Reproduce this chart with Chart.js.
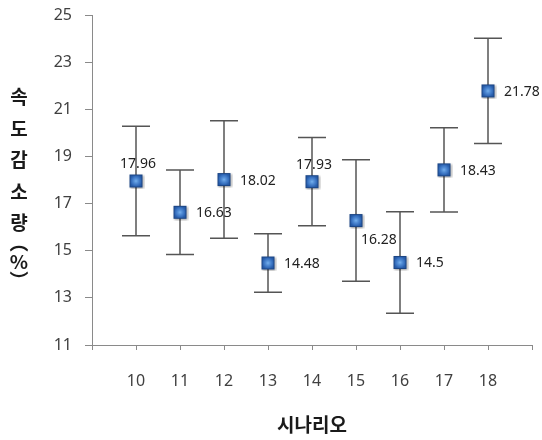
<!DOCTYPE html>
<html>
<head>
<meta charset="utf-8">
<script src="https://cdn.jsdelivr.net/npm/chart.js@4"></script>
<style>
  html, body { margin: 0; padding: 0; background: #fff; }
  #wrap { width: 542px; height: 440px; }
</style>
</head>
<body>
<div id="wrap"><canvas id="c" width="542" height="440"></canvas></div>
<script>
// scenario numbers on the x axis
const scenarios = [10, 11, 12, 13, 14, 15, 16, 17, 18];
// speed reduction (%) per scenario
const reduction = [17.96, 16.63, 18.02, 14.48, 17.93, 16.28, 14.5, 18.43, 21.78];
// +/- error amount per scenario
const errorAmount = [2.32, 1.79, 2.49, 1.24, 1.87, 2.58, 2.15, 1.79, 2.23];
// y axis tick labels
const yTicks = [11, 13, 15, 17, 19, 21, 23, 25];
// where each data label sits relative to its marker
const labelSide = ['top', 'right', 'right', 'right', 'top', 'below', 'right', 'right', 'right'];

const yTitleChars = ['속', '도', '감', '소', '량', '︵', '%', '︶'];
const KR_FONT = "'Noto Sans CJK KR', 'Noto Sans', sans-serif";

// blue square marker with a soft shadow
function makeMarker() {
    const size = 17;
    const cv = document.createElement('canvas');
    cv.width = size;
    cv.height = size;
    const g = cv.getContext('2d');
    g.save();
    g.shadowColor = 'rgba(0,0,0,0.4)';
    g.shadowBlur = 2;
    g.shadowOffsetX = 1;
    g.shadowOffsetY = 1;
    g.fillStyle = '#2459a6';
    g.fillRect(2, 2, 13, 13);
    g.restore();
    const rg = g.createRadialGradient(8.5, 8.5, 0, 8.5, 8.5, 7.5);
    rg.addColorStop(0, 'rgba(125,185,245,0.95)');
    rg.addColorStop(0.6, 'rgba(70,130,210,0.6)');
    rg.addColorStop(1, 'rgba(30,75,150,0)');
    g.fillStyle = rg;
    g.fillRect(2, 2, 13, 13);
    g.strokeStyle = '#1b4584';
    g.lineWidth = 1;
    g.strokeRect(2.5, 2.5, 12, 12);
    return cv;
}

const errorBarPlugin = {
    id: 'errorBars',
    beforeDatasetsDraw(chart) {
        const ctx = chart.ctx;
        const xs = chart.scales.x;
        const ys = chart.scales.y;
        ctx.save();
        ctx.strokeStyle = '#555';
        ctx.lineWidth = 1.5;
        scenarios.forEach((s, i) => {
            const x = xs.getPixelForValue(s);
            const top = ys.getPixelForValue(reduction[i] + errorAmount[i]);
            const bot = ys.getPixelForValue(reduction[i] - errorAmount[i]);
            ctx.beginPath();
            ctx.moveTo(x, top);
            ctx.lineTo(x, bot);
            ctx.moveTo(x - 14, top);
            ctx.lineTo(x + 14, top);
            ctx.moveTo(x - 14, bot);
            ctx.lineTo(x + 14, bot);
            ctx.stroke();
        });
        ctx.restore();
    }
};

const valueLabelPlugin = {
    id: 'valueLabels',
    afterDatasetsDraw(chart) {
        const ctx = chart.ctx;
        const meta = chart.getDatasetMeta(0);
        ctx.save();
        ctx.font = "14px 'Noto Sans', sans-serif";
        ctx.fillStyle = '#222';
        ctx.textBaseline = 'middle';
        meta.data.forEach((pt, i) => {
            const side = labelSide[i];
            const txt = String(reduction[i]);
            if (side === 'top') {
                ctx.textAlign = 'center';
                ctx.fillText(txt, pt.x + 2, pt.y - 17);
            } else if (side === 'below') {
                ctx.textAlign = 'left';
                ctx.fillText(txt, pt.x + 5, pt.y + 19);
            } else {
                ctx.textAlign = 'left';
                ctx.fillText(txt, pt.x + 16, pt.y + 1);
            }
        });
        ctx.restore();
    }
};

const yTitlePlugin = {
    id: 'yTitle',
    afterDraw(chart) {
        const ctx = chart.ctx;
        ctx.save();
        ctx.font = 'bold 19px ' + KR_FONT;
        ctx.fillStyle = '#1a1a1a';
        ctx.textAlign = 'center';
        ctx.textBaseline = 'middle';
        let y = 97;
        yTitleChars.forEach((ch, i) => {
            ctx.fillText(ch, 19, y);
            y += i < 4 ? 31.5 : (i === 4 ? 20 : 19);
        });
        ctx.restore();
    }
};

const ctx = document.getElementById('c').getContext('2d');
new Chart(ctx, {
    type: 'scatter',
    data: {
        datasets: [{
            data: scenarios.map((s, i) => ({ x: s, y: reduction[i] })),
            pointStyle: makeMarker(),
            showLine: false
        }]
    },
    options: {
        responsive: false,
        animation: false,
        devicePixelRatio: 1,
        events: [],
        layout: { padding: { top: 15, right: 10, left: 0, bottom: 0 } },
        plugins: {
            legend: { display: false },
            tooltip: { enabled: false }
        },
        scales: {
            x: {
                type: 'linear',
                min: 9,
                max: 19,
                afterBuildTicks(scale) {
                    scale.ticks = [9, ...scenarios, 19].map(v => ({ value: v }));
                },
                afterFit(scale) {
                    scale.height = 95;
                    scale.paddingLeft = 0;
                    scale.paddingRight = 0;
                },
                grid: { drawOnChartArea: false, tickLength: 5, color: '#8a8a8a' },
                border: { color: '#8a8a8a', width: 1 },
                ticks: {
                    padding: 22,
                    color: '#404040',
                    font: { size: 16, family: "'Noto Sans', sans-serif" },
                    callback: v => scenarios.includes(v) ? String(v) : ''
                },
                title: {
                    display: true,
                    text: '시나리오',
                    color: '#1a1a1a',
                    font: { size: 19, weight: 'bold', family: KR_FONT },
                    padding: { top: 0, bottom: 4 }
                }
            },
            y: {
                min: 11,
                max: 25,
                afterBuildTicks(scale) {
                    scale.ticks = yTicks.map(v => ({ value: v }));
                },
                afterFit(scale) {
                    scale.width = 92;
                    scale.paddingTop = 0;
                    scale.paddingBottom = 0;
                },
                grid: { drawOnChartArea: false, tickLength: 7, color: '#8a8a8a' },
                border: { color: '#8a8a8a', width: 1 },
                ticks: {
                    padding: 13,
                    color: '#404040',
                    font: { size: 16, family: "'Noto Sans', sans-serif" }
                }
            }
        }
    },
    plugins: [errorBarPlugin, valueLabelPlugin, yTitlePlugin]
});
</script>
</body>
</html>
